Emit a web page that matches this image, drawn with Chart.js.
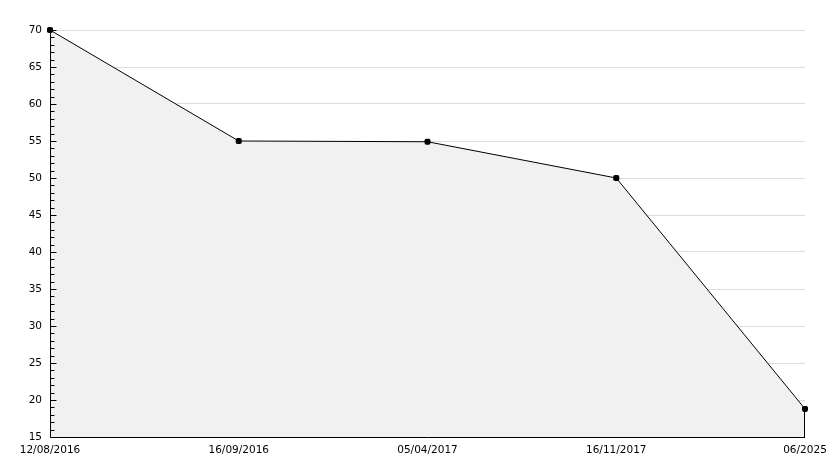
<!DOCTYPE html>
<html>
<head>
<meta charset="utf-8">
<script src="https://cdn.jsdelivr.net/npm/chart.js@4/dist/chart.umd.min.js"></script>
<style>
  html, body { margin: 0; padding: 0; background: #fff; }
  #wrap { width: 834px; height: 468px; }
</style>
</head>
<body>
<div id="wrap"><canvas id="lineChart"></canvas></div>
<script>
const dates = ['12/08/2016', '16/09/2016', '05/04/2017', '16/11/2017', '06/2025'];
const values = [70, 55, 54.9, 50, 18.8];
const yMin = 15;
const yMax = 70;

// axes, minor ticks and closing edge: drawn after the fill, before line and points
const axisPlugin = {
    id: 'axisPlugin',
    beforeDatasetDraw(chart) {
        const ctx = chart.ctx;
        const area = chart.chartArea;
        const y = chart.scales.y;
        const left = Math.round(area.left) + 0.5;
        const bottom = Math.round(area.bottom) + 0.5;
        ctx.save();
        ctx.strokeStyle = '#000';
        ctx.lineWidth = 1;
        ctx.beginPath();
        for (let v = yMin; v <= yMax; v++) {
            const py = Math.round(y.getPixelForValue(v)) + 0.5;
            const len = v % 5 === 0 ? 6 : 4;
            ctx.moveTo(left, py);
            ctx.lineTo(left + len, py);
        }
        ctx.moveTo(left, area.top);
        ctx.lineTo(left, bottom);
        ctx.lineTo(area.right, bottom);
        const pts = chart.getDatasetMeta(0).data;
        const last = pts[pts.length - 1];
        const lx = Math.round(last.x) - 0.5;
        ctx.moveTo(lx, bottom);
        ctx.lineTo(lx, last.y);
        ctx.stroke();
        ctx.restore();
    }
};

const data = {
    labels: dates,
    datasets: [{
        data: values,
        borderColor: '#000',
        borderWidth: 1,
        backgroundColor: '#f1f1f1',
        fill: 'start',
        tension: 0,
        clip: false,
        pointStyle: 'rectRounded',
        pointRadius: 3.5,
        pointBackgroundColor: '#000',
        pointBorderColor: '#000',
        pointBorderWidth: 0
    }]
};

const config = {
    type: 'line',
    data: data,
    options: {
        responsive: true,
        maintainAspectRatio: false,
        animation: false,
        layout: { padding: { top: 30, right: 29, left: 0, bottom: 0 } },
        plugins: {
            legend: { display: false },
            tooltip: { enabled: false }
        },
        scales: {
            x: {
                type: 'category',
                offset: false,
                grid: { display: false, drawTicks: false },
                border: { display: false },
                ticks: {
                    color: '#000',
                    padding: 7,
                    maxRotation: 0,
                    autoSkip: false,
                    font: { family: 'DejaVu Sans', size: 10.5 }
                },
                afterFit(scale) { scale.height = 31; }
            },
            y: {
                min: yMin,
                max: yMax,
                grid: {
                    drawTicks: false,
                    color: (c) => (c.tick && c.tick.value > yMin ? '#dddddd' : 'rgba(0,0,0,0)'),
                    lineWidth: 1
                },
                border: { display: false },
                ticks: {
                    stepSize: 5,
                    color: '#000',
                    padding: 8,
                    font: { family: 'DejaVu Sans', size: 10.5 }
                },
                afterFit(scale) { scale.width = 50; }
            }
        }
    },
    plugins: [axisPlugin]
};

new Chart(document.getElementById('lineChart'), config);
</script>
</body>
</html>
